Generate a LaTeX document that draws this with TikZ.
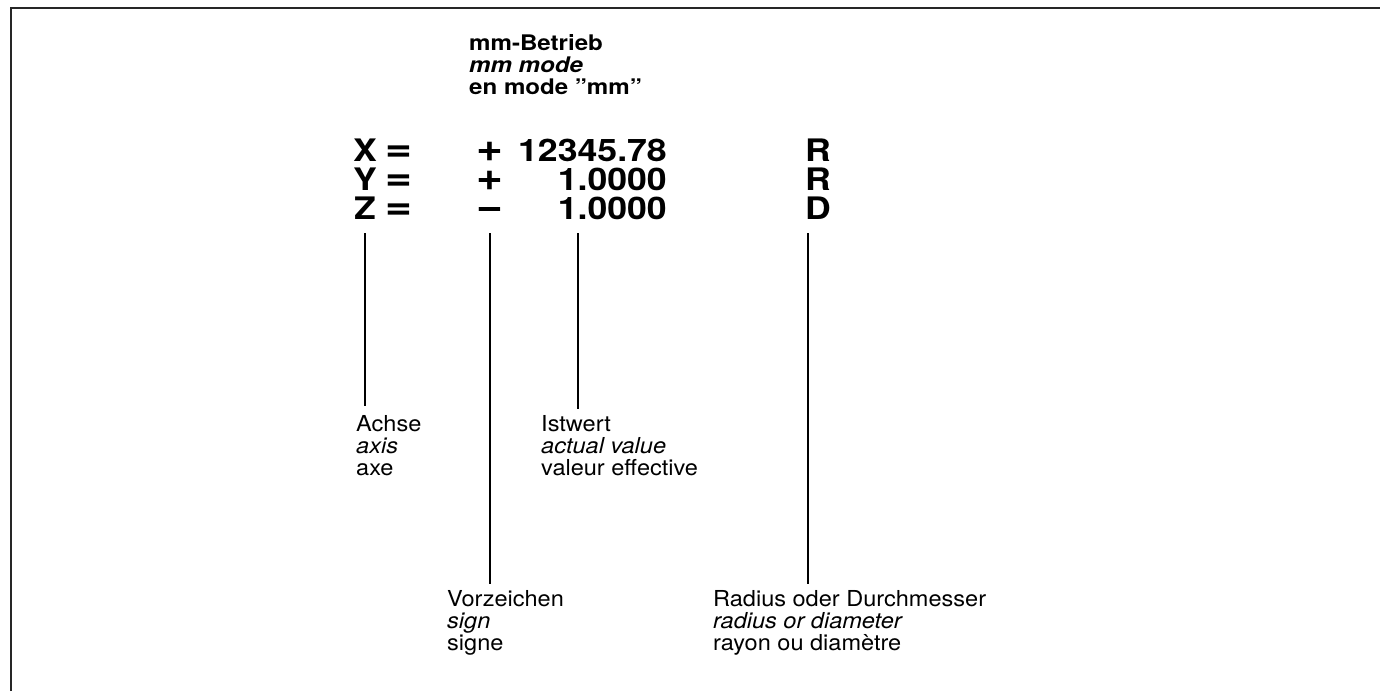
\documentclass[tikz,border=0pt]{standalone}
\usepackage{fontspec}
\setmainfont{TeX Gyre Heros}
\newfontfamily\rowf[FakeStretch=1.15]{TeX Gyre Heros}
\newfontfamily\hdrf[FakeStretch=1.12]{TeX Gyre Heros}
\newfontfamily\lblf[FakeStretch=1.07]{TeX Gyre Heros}
\begin{document}
\begin{tikzpicture}[x=1pt,y=-1pt,
  hdr/.style={font=\hdrf\fontsize{21.5}{24}\selectfont\bfseries, inner sep=0pt, anchor=base west},
  hdri/.style={font=\hdrf\fontsize{21.5}{24}\selectfont\bfseries\itshape, inner sep=0pt, anchor=base west},
  big/.style={font=\rowf\fontsize{31}{36}\selectfont\bfseries, inner sep=0pt},
  sym/.style={font=\rowf\fontsize{40}{44}\selectfont\bfseries, inner sep=0pt, anchor=base, text height=20pt, text depth=0pt},
  lbl/.style={font=\lblf\fontsize{22}{26}\selectfont, inner sep=0pt, anchor=base west},
  lbli/.style={font=\lblf\fontsize{22}{26}\selectfont\itshape, inner sep=0pt, anchor=base west},
  conn/.style={line width=1.1pt, black},
  frame/.style={line width=1.6pt, black!85}
]
\useasboundingbox (0,0) rectangle (1380,691);
\fill[white] (0,0) rectangle (1380,691);
\draw[frame] (11,691) -- (11,8) -- (1380,8);

% header
\node[hdr]  (h1) at (469,50) {mm-Betrieb};
\node[hdri] (h2) at (469,72) {mm mode};
\node[hdr]  (h3) at (469,94) {en mode \textquotedblright mm\textquotedblright};

% rows
\node[big,anchor=base] (xl) at (365,161) {X};
\node[sym] (xe) at (399,161) {=};
\node[sym] (xs) at (490,161) {+};
\node[big,anchor=base east] (xv) at (667,161) {12345.78};
\node[big,anchor=base west] (xr) at (805,161) {R};

\node[big,anchor=base] (yl) at (365,190) {Y};
\node[sym] (ye) at (399,190) {=};
\node[sym] (ys) at (490,190) {+};
\node[big,anchor=base east] (yv) at (667,190) {1.0000};
\node[big,anchor=base west] (yr) at (805,190) {R};

\node[big,anchor=base] (zl) at (365,219) {Z};
\node[sym] (ze) at (399,219) {=};
\node[sym] (zs) at (490,219) {\char"2212};
\node[big,anchor=base east] (zv) at (667,219) {1.0000};
\node[big,anchor=base west] (zr) at (805,219) {D};

% labels
\node[lbl]  (a1) at (356,431) {Achse};
\node[lbli] (a2) at (356,453) {axis};
\node[lbl]  (a3) at (356,475) {axe};

\node[lbl]  (i1) at (541,431) {Istwert};
\node[lbli] (i2) at (541,453) {actual value};
\node[lbl]  (i3) at (541,475) {valeur effective};

\node[lbl]  (v1) at (447,606) {Vorzeichen};
\node[lbli] (v2) at (447,628) {sign};
\node[lbl]  (v3) at (447,650) {signe};

\node[lbl]  (r1) at (713,606) {Radius oder Durchmesser};
\node[lbli] (r2) at (713,628) {radius or diameter};
\node[lbl]  (r3) at (713,650) {rayon ou diamètre};

% connector tops
\coordinate (ta) at (365,233);
\coordinate (ts) at (490,233);
\coordinate (tv) at (578,233);
\coordinate (tr) at (808,233);

\draw[conn, shorten >=9pt] (ta) -- (ta |- a1.north);
\draw[conn, shorten >=6pt] (ts) -- (ts |- v1.north);
\draw[conn, shorten >=6pt] (tv) -- (tv |- i1.north);
\draw[conn, shorten >=6pt] (tr) -- (tr |- r1.north);
\end{tikzpicture}
\end{document}
